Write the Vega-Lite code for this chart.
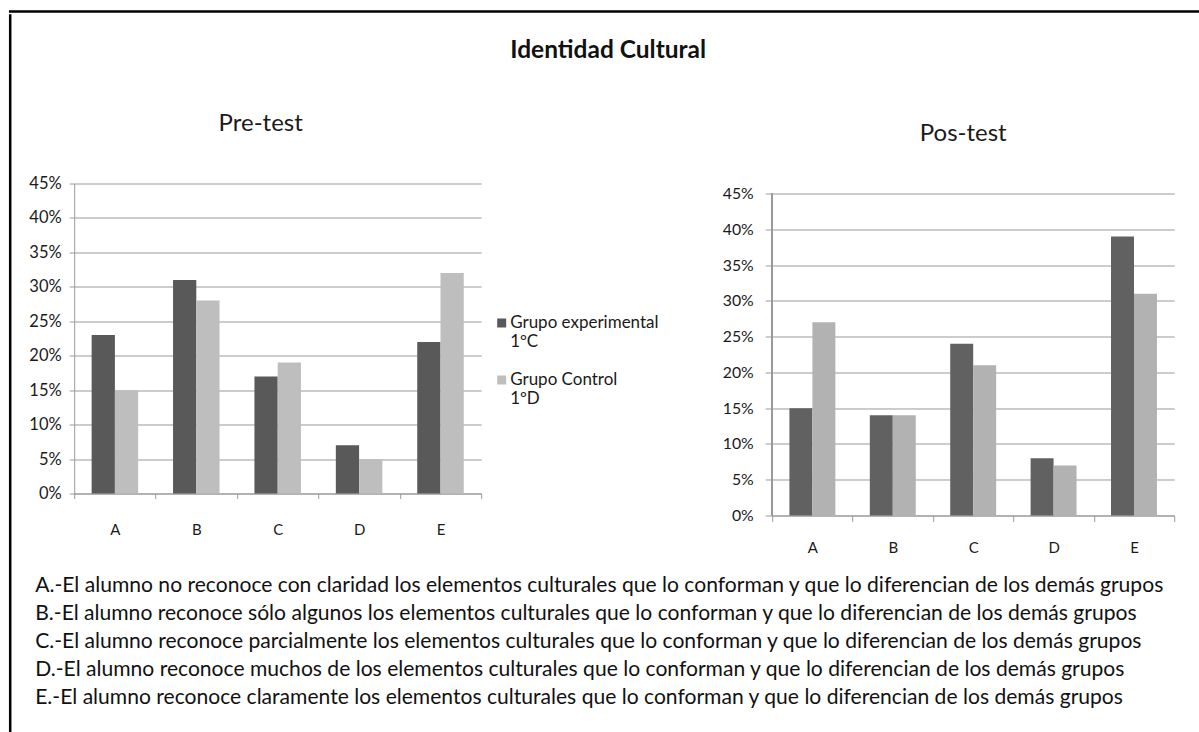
{
  "$schema": "https://vega.github.io/schema/vega-lite/v6.json",
  "padding": {"left": 8.2, "top": 9.5, "right": 0, "bottom": 0},
  "background": "white",
  "config": {
    "font": "Lato",
    "view": {"stroke": null},
    "axis": {"labelFont": "Lato", "labelColor": "#1a1a1a", "domainColor": "#9a9a9a", "tickColor": "#9a9a9a", "gridColor": "#9a9a9a", "title": null, "labelOverlap": false},
    "title": {"font": "Lato", "color": "#1a1a1a"},
    "legend": {"labelFont": "Lato", "labelColor": "#1a1a1a"}
  },
  "datasets": {
    "bars": [
      {"test": "Pre", "cat": "A", "grupo": "Grupo experimental 1ºC", "v": 0.23},
      {"test": "Pre", "cat": "A", "grupo": "Grupo Control 1ºD", "v": 0.15},
      {"test": "Pre", "cat": "B", "grupo": "Grupo experimental 1ºC", "v": 0.31},
      {"test": "Pre", "cat": "B", "grupo": "Grupo Control 1ºD", "v": 0.28},
      {"test": "Pre", "cat": "C", "grupo": "Grupo experimental 1ºC", "v": 0.17},
      {"test": "Pre", "cat": "C", "grupo": "Grupo Control 1ºD", "v": 0.19},
      {"test": "Pre", "cat": "D", "grupo": "Grupo experimental 1ºC", "v": 0.07},
      {"test": "Pre", "cat": "D", "grupo": "Grupo Control 1ºD", "v": 0.05},
      {"test": "Pre", "cat": "E", "grupo": "Grupo experimental 1ºC", "v": 0.22},
      {"test": "Pre", "cat": "E", "grupo": "Grupo Control 1ºD", "v": 0.32},
      {"test": "Pos", "cat": "A", "grupo": "Grupo experimental 1ºC", "v": 0.15},
      {"test": "Pos", "cat": "A", "grupo": "Grupo Control 1ºD", "v": 0.27},
      {"test": "Pos", "cat": "B", "grupo": "Grupo experimental 1ºC", "v": 0.14},
      {"test": "Pos", "cat": "B", "grupo": "Grupo Control 1ºD", "v": 0.14},
      {"test": "Pos", "cat": "C", "grupo": "Grupo experimental 1ºC", "v": 0.24},
      {"test": "Pos", "cat": "C", "grupo": "Grupo Control 1ºD", "v": 0.21},
      {"test": "Pos", "cat": "D", "grupo": "Grupo experimental 1ºC", "v": 0.08},
      {"test": "Pos", "cat": "D", "grupo": "Grupo Control 1ºD", "v": 0.07},
      {"test": "Pos", "cat": "E", "grupo": "Grupo experimental 1ºC", "v": 0.39},
      {"test": "Pos", "cat": "E", "grupo": "Grupo Control 1ºD", "v": 0.31}
    ],
    "lines": [
      {"k": 1, "x0": 0, "t": "A.-El alumno no reconoce con claridad los elementos culturales que lo conforman y que lo diferencian de los demás grupos"},
      {"k": 2, "x0": 0, "t": "B.-El alumno reconoce sólo algunos los elementos culturales que lo conforman y que lo diferencian de los demás grupos"},
      {"k": 3, "x0": 0, "t": "C.-El alumno reconoce parcialmente los elementos culturales que lo conforman y que lo diferencian de los demás grupos"},
      {"k": 4, "x0": 0, "t": "D.-El alumno reconoce muchos de los elementos culturales que lo conforman y que lo diferencian de los demás grupos"},
      {"k": 5, "x0": 0, "t": "E.-El alumno reconoce claramente los elementos culturales que lo conforman y que lo diferencian de los demás grupos"}
    ],
    "blank": [],
    "heading": [{"t": "Identidad Cultural"}]
  },
  "spacing": 0,
  "vconcat": [
    {
      "width": 1200, "height": 0.01,
      "view": {"stroke": "black", "strokeWidth": 2.5},
      "data": {"name": "blank"},
      "mark": {"type": "text"},
      "encoding": {"text": {"field": "b"}}
    },
    {
      "spacing": 16,
      "hconcat": [
        {
          "width": 0.01, "height": 730,
          "view": {"stroke": "black", "strokeWidth": 2.5},
          "data": {"name": "blank"},
          "mark": {"type": "text"},
          "encoding": {"text": {"field": "b"}}
        },
        {
          "spacing": 16,
          "vconcat": [
            {
              "width": 1068, "height": 79.5,
              "data": {"name": "heading"},
              "mark": {"type": "text", "fontSize": 24.5, "fontWeight": "bold", "font": "Lato", "color": "#111111", "dy": -4.25},
              "encoding": {"text": {"field": "t"}}
            },
            {
              "spacing": 63,
              "resolve": {"scale": {"color": "independent", "x": "independent", "y": "independent", "xOffset": "independent"}},
              "hconcat": [
                {
                  "width": 407, "height": 310,
                  "title": {"text": "Pre-test", "fontSize": 24, "fontWeight": "normal", "anchor": "middle", "frame": "group", "dx": -17, "offset": 40},
                  "data": {"name": "bars"},
                  "transform": [{"filter": "datum.test == 'Pre'"}],
                  "mark": {"type": "bar"},
                  "encoding": {
                    "x": {"field": "cat", "type": "nominal", "scale": {"paddingInner": 0, "paddingOuter": 0},
                      "axis": {"labelAngle": 0, "tickBand": "extent", "tickSize": 5, "labelPadding": 24.5, "labelFontSize": 15}},
                    "xOffset": {"field": "grupo", "type": "nominal", "sort": ["Grupo experimental 1ºC", "Grupo Control 1ºD"], "scale": {"paddingInner": 0, "paddingOuter": 0.75}},
                    "y": {"field": "v", "type": "quantitative", "scale": {"domain": [0, 0.45], "nice": false},
                      "axis": {"values": [0, 0.05, 0.1, 0.15, 0.2, 0.25, 0.3, 0.35, 0.4, 0.45], "format": ".0%", "grid": true, "tickSize": 5, "labelPadding": 8, "labelFontSize": 16.5}},
                    "color": {"field": "grupo", "type": "nominal",
                      "scale": {"domain": ["Grupo experimental 1ºC", "Grupo Control 1ºD"], "range": ["#595959", "#bebebe"]},
                      "legend": {"orient": "none", "legendX": 419, "legendY": 131, "title": null,
                        "labelExpr": "datum.label == 'Grupo experimental 1ºC' ? ['Grupo experimental', '1ºC'] : ['Grupo Control', '1ºD']",
                        "symbolType": "square", "symbolSize": 81, "symbolStrokeWidth": 0, "labelFontSize": 17, "rowPadding": 20, "labelOffset": 0}}
                  }
                },
                {
                  "width": 402, "height": 332,
                  "title": {"text": "Pos-test", "fontSize": 24, "fontWeight": "normal", "anchor": "middle", "frame": "group", "dx": -10, "offset": 38},
                  "data": {"name": "bars"},
                  "transform": [{"filter": "datum.test == 'Pos'"}],
                  "layer": [
                    {
                      "mark": {"type": "bar"},
                      "encoding": {
                        "x": {"field": "cat", "type": "nominal", "scale": {"paddingInner": 0, "paddingOuter": 0},
                          "axis": {"labelAngle": 0, "tickBand": "extent", "tickSize": 6, "labelPadding": 19.5, "labelFontSize": 15}},
                        "xOffset": {"field": "grupo", "type": "nominal", "sort": ["Grupo experimental 1ºC", "Grupo Control 1ºD"], "scale": {"paddingInner": 0, "paddingOuter": 0.75}},
                        "y": {"field": "v", "type": "quantitative", "scale": {"domain": [0, 0.463975], "nice": false},
                          "axis": {"values": [0, 0.05, 0.1, 0.15, 0.2, 0.25, 0.3, 0.35, 0.4, 0.45], "format": ".0%", "grid": true, "domain": false, "tickSize": 7, "labelPadding": 12, "labelFontSize": 15.8}},
                        "color": {"field": "grupo", "type": "nominal",
                          "scale": {"domain": ["Grupo experimental 1ºC", "Grupo Control 1ºD"], "range": ["#616161", "#b2b2b2"]},
                          "legend": null}
                      }
                    },
                    {
                      "mark": {"type": "rule", "color": "#9a9a9a", "strokeWidth": 1},
                      "encoding": {
                        "x": {"datum": "A", "bandPosition": 0, "type": "nominal",
                          "axis": {"labelAngle": 0, "tickBand": "extent", "tickSize": 6, "labelPadding": 19.5, "labelFontSize": 15}},
                        "y": {"datum": 0, "type": "quantitative",
                          "axis": {"values": [0, 0.05, 0.1, 0.15, 0.2, 0.25, 0.3, 0.35, 0.4, 0.45], "format": ".0%", "grid": true, "domain": false, "tickSize": 7, "labelPadding": 12, "labelFontSize": 15.8}},
                        "y2": {"datum": 0.45}
                      }
                    }
                  ]
                }
              ]
            },
            {
              "width": 1068, "height": 139.5,
              "data": {"name": "lines"},
              "mark": {"type": "text", "align": "left", "baseline": "middle", "fontSize": 21.1, "font": "Lato", "color": "#111111", "dx": -39},
              "encoding": {
                "y": {"field": "k", "type": "ordinal", "axis": null, "scale": {"paddingInner": 0, "paddingOuter": 0}},
                "x": {"field": "x0", "type": "quantitative", "axis": null, "scale": {"domain": [0, 1]}},
                "text": {"field": "t"}
              }
            }
          ]
        }
      ]
    }
  ]
}
